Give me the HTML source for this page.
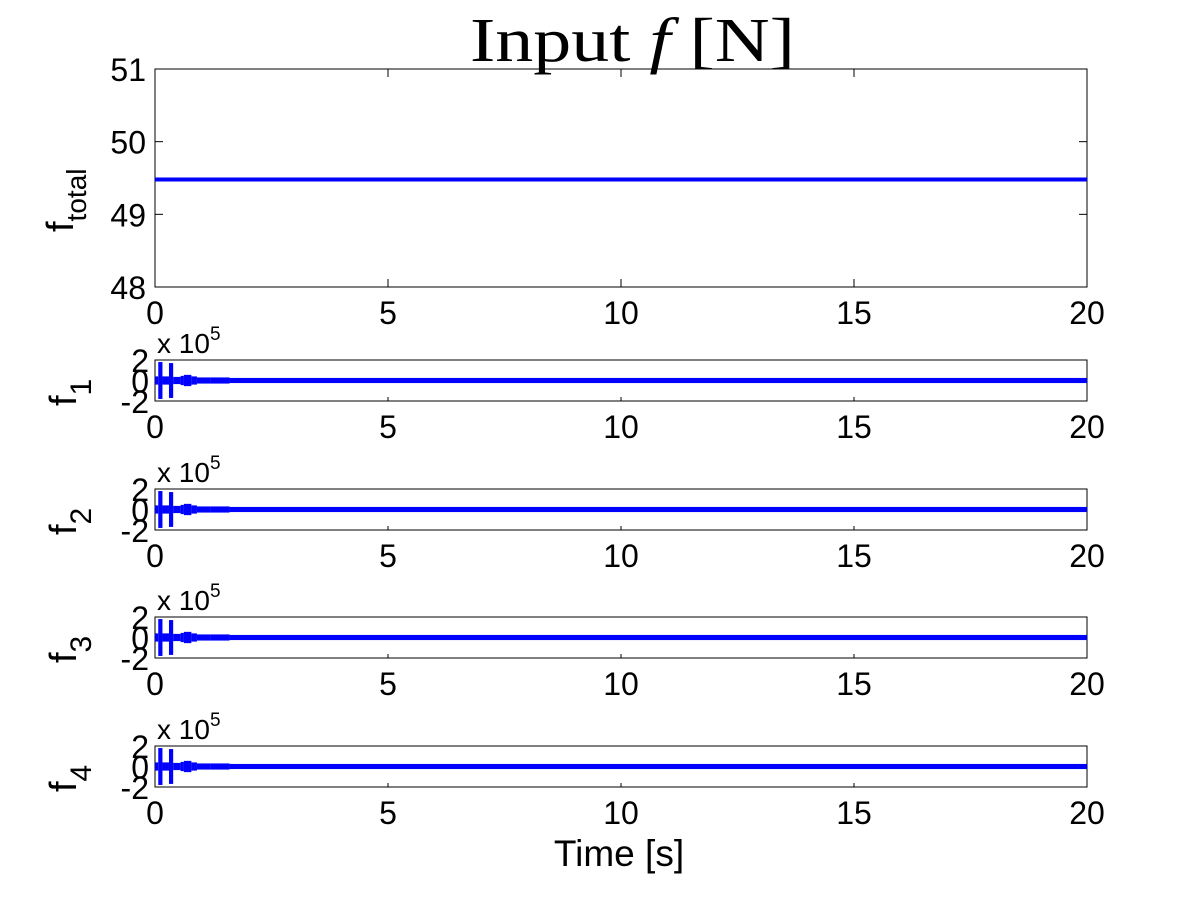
<!DOCTYPE html>
<html><head><meta charset="utf-8"><style>
body{margin:0;background:#fff;}
svg text{font-family:"Liberation Sans",sans-serif;fill:#000;}
</style></head><body>
<svg width="1201" height="901" xmlns="http://www.w3.org/2000/svg" id="chart">
<text x="470" y="61" textLength="325" lengthAdjust="spacingAndGlyphs" style="font-family:'Liberation Serif',serif" font-size="62">Input <tspan font-style="italic">f</tspan> [N]</text>
</svg>
<script>
const xTicks=[0,5,10,15,20];
const mainYTicks=[48,49,50,51];
const mainValue=49.48;
const subYTicks=[-2,0,2];
// signal segments: start time [s], end time [s], amplitude (x 1e5)
const segStart=[0.0,0.07,0.16,0.3,0.39,0.55,0.62,0.78,0.9,1.2,1.6];
const segEnd=[0.07,0.16,0.3,0.39,0.55,0.62,0.78,0.9,1.2,1.6,20];
const segAmp=[0.4,1.8,0.4,1.7,0.35,0.45,0.55,0.4,0.3,0.3,0.25];
const subLabels=["1","2","3","4"];
const subTops=[360,489,617,746];

const svg=document.getElementById('chart');
const NS='http://www.w3.org/2000/svg';
function el(tag,attrs,parent){const e=document.createElementNS(NS,tag);for(const k in attrs)e.setAttribute(k,attrs[k]);(parent||svg).appendChild(e);return e;}
const X0=155,X1=1087;
const sx=t=>X0+(t-0)/(20-0)*(X1-X0);
const FS=32;

function xAxis(g,yb){
  xTicks.forEach(t=>{
    const x=sx(t);
    const l=el('line',{x1:x,x2:x,y1:yb,y2:yb-(yb>300?4:8),stroke:'#000'},g);
    
    
    const tx=el('text',{x:x,y:yb+37,'text-anchor':'middle','font-size':FS},g);
    tx.textContent=t;
    
    
  });
}

{
  const g=el('g',{});
  
  
  const T=69,B=287;
  const sy=v=>B-(v-48)/(51-48)*(B-T);
  const r=el('rect',{x:X0,y:T,width:X1-X0,height:B-T,fill:'none',stroke:'#000'},g);
  
  
  mainYTicks.forEach(v=>{
    const y=sy(v);
    el('line',{x1:X0,x2:X0+8,y1:y,y2:y,stroke:'#000'},g);
    el('line',{x1:X1,x2:X1-8,y1:y,y2:y,stroke:'#000'},g);
    const tx=el('text',{x:X0-9,y:y+12,'text-anchor':'end','font-size':FS},g);
    tx.textContent=v;
    
    
  });
  xTicks.forEach(t=>{el('line',{x1:sx(t),x2:sx(t),y1:T,y2:T+8,stroke:'#000'},g);});
  xAxis(g,B);
  const ln=el('line',{x1:sx(0),x2:sx(20),y1:sy(mainValue),y2:sy(mainValue),stroke:'#0000ff','stroke-width':4},g);
  
  
  const yl=el('text',{transform:'translate(73,232) rotate(-90)','font-size':38},g);
  yl.innerHTML='f<tspan font-size="28" dy="13">total</tspan>';
  
  
}

subTops.forEach((T,i)=>{
  const B=T+41;
  const sy=v=>B-(v+2)/4*(B-T);
  const g=el('g',{});
  
  
  const r=el('rect',{x:X0,y:T,width:X1-X0,height:B-T,fill:'none',stroke:'#000'},g);
  
  
  subYTicks.forEach(v=>{
    const tx=el('text',{x:X0-6,y:sy(v)+12,'text-anchor':'end','font-size':FS},g);
    tx.textContent=v;
    
    
  });
  xAxis(g,B);
  const ex=el('text',{x:X0+2,y:T-7,'font-size':28},g);
  ex.innerHTML='x 10<tspan font-size="19" dy="-13">5</tspan>';
  
  
  segStart.forEach((s,k)=>{
    const a=segAmp[k];
    const rc=el('rect',{x:sx(s),y:sy(a),width:Math.max(1,sx(segEnd[k])-sx(s)),height:sy(-a)-sy(a),fill:'#0000ff'},g);
    
    
  });
  const yl=el('text',{transform:'translate(76,'+(T+46)+') rotate(-90)','font-size':38},g);
  yl.innerHTML='f<tspan font-size="30" dy="15">'+subLabels[i]+'</tspan>';
  
  
});
const xt=el('text',{x:619,y:866,'text-anchor':'middle','font-size':37});
xt.textContent='Time [s]';


</script>
</body></html>
